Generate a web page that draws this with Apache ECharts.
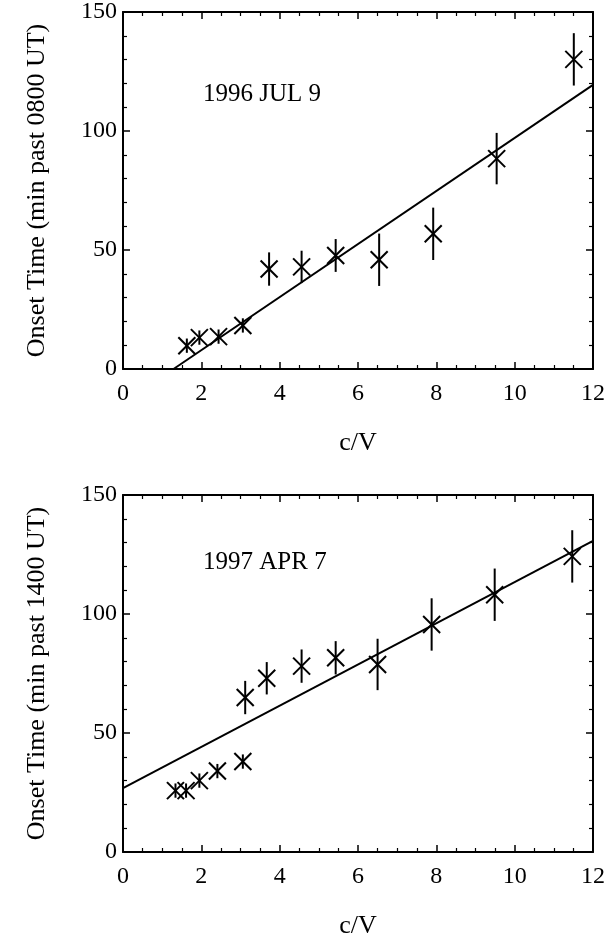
<!DOCTYPE html>
<html>
<head>
<meta charset="utf-8">
<script src="https://cdn.jsdelivr.net/npm/echarts@6/dist/echarts.min.js"></script>
<style>
html,body{margin:0;padding:0;background:#fff;}
#chart{width:615px;height:940px;}
</style>
</head>
<body>
<div id="chart"></div>
<script>
// ---- Data ----
var xTicks = [0, 2, 4, 6, 8, 10, 12];
var yTicks = [0, 50, 100, 150];

// Panel 1: 1996 JUL 9
var cv1996 = [1.63, 1.95, 2.44, 3.06, 3.73, 4.56, 5.43, 6.54, 7.92, 9.54, 11.51];
var onset1996 = [9.8, 13.2, 13.6, 18.3, 42.0, 42.9, 47.7, 45.9, 56.8, 88.4, 130.1];
var err1996 = [3, 3, 3, 3, 7.0, 6.8, 6.9, 11.0, 11.0, 10.8, 11.0];
var fitX1996 = [1.29, 12];
var fitY1996 = [0, 119.4];

// Panel 2: 1997 APR 7
var cv1997 = [1.34, 1.61, 1.95, 2.41, 3.06, 3.12, 3.67, 4.56, 5.43, 6.50, 7.88, 9.49, 11.47];
var onset1997 = [25.8, 25.8, 30.0, 34.0, 38.0, 64.9, 73.0, 78.1, 81.6, 78.8, 95.6, 108.1, 124.2];
var err1997 = [3, 3, 3, 3, 3, 7.0, 6.8, 7.0, 7.0, 10.8, 11.0, 11.0, 11.0];
var fitX1997 = [0, 12];
var fitY1997 = [26.8, 130.7];

var titles = ["1996 JUL 9", "1997 APR 7"];
var yNames = ["Onset Time (min past 0800 UT)", "Onset Time (min past 1400 UT)"];
var xName = "c/V";

// ---- Helpers ----
var FONT = "'Liberation Serif', 'DejaVu Serif', serif";
function zip(a, b, c) {
  return a.map(function (v, i) { return c ? [v, b[i], c[i]] : [v, b[i]]; });
}
var grids = [
  {left: 123, top: 10, width: 470, height: 359},
  {left: 123, top: 495, width: 470, height: 358}
];

var xAxes = [], yAxes = [];
grids.forEach(function (g, gi) {
  var common = {
    gridIndex: gi, type: 'value', min: 0, max: 12, interval: 2,
    axisLine: {show: true, onZero: false, lineStyle: {color: '#000', width: 2}},
    axisTick: {show: true, inside: true, length: 7, lineStyle: {color: '#000', width: 1.5}},
    minorTick: {show: true, splitNumber: 4, length: 4, lineStyle: {color: '#000', width: 1.2}},
    splitLine: {show: false}
  };
  xAxes.push(Object.assign({}, common, {
    position: 'bottom',
    name: xName, nameLocation: 'middle', nameGap: 61,
    nameTextStyle: {fontFamily: FONT, fontSize: 26, color: '#000'},
    axisLabel: {show: true, margin: 13, fontFamily: FONT, fontSize: 24, color: '#000',
      formatter: function (v) { return xTicks.indexOf(v) >= 0 ? String(v) : ''; }}
  }));
  xAxes.push(Object.assign({}, common, {position: 'top', axisLabel: {show: false}}));
  var ycommon = {
    gridIndex: gi, type: 'value', min: 0, max: 150, interval: 50,
    axisLine: {show: true, onZero: false, lineStyle: {color: '#000', width: 2}},
    axisTick: {show: true, inside: true, length: 7, lineStyle: {color: '#000', width: 1.5}},
    minorTick: {show: true, splitNumber: 5, length: 4, lineStyle: {color: '#000', width: 1.2}},
    splitLine: {show: false}
  };
  yAxes.push(Object.assign({}, ycommon, {
    position: 'left',
    name: yNames[gi], nameLocation: 'middle', nameGap: 73, nameRotate: 90,
    nameTextStyle: {fontFamily: FONT, fontSize: 26, color: '#000'},
    axisLabel: {show: true, margin: 6, fontFamily: FONT, fontSize: 24, color: '#000',
      formatter: function (v) { return yTicks.indexOf(v) >= 0 ? String(v) : ''; }}
  }));
  yAxes.push(Object.assign({}, ycommon, {position: 'right', axisLabel: {show: false}}));
});

function renderStar(params, api) {
  var x = api.value(0), y = api.value(1), e = api.value(2);
  var c = api.coord([x, y]);
  var top = api.coord([x, y + e]);
  var bot = api.coord([x, y - e]);
  var h = 8.5;
  var style = {stroke: '#000', lineWidth: 2};
  return {
    type: 'group',
    children: [
      {type: 'line', shape: {x1: c[0] - h, y1: c[1] - h, x2: c[0] + h, y2: c[1] + h}, style: style},
      {type: 'line', shape: {x1: c[0] - h, y1: c[1] + h, x2: c[0] + h, y2: c[1] - h}, style: style},
      {type: 'line', shape: {x1: c[0], y1: top[1], x2: c[0], y2: bot[1]}, style: style}
    ]
  };
}

var series = [
  {type: 'line', xAxisIndex: 0, yAxisIndex: 0, data: zip(fitX1996, fitY1996), showSymbol: false,
   symbol: 'none', lineStyle: {color: '#000', width: 2}, clip: true, silent: true},
  {type: 'custom', xAxisIndex: 0, yAxisIndex: 0, data: zip(cv1996, onset1996, err1996),
   renderItem: renderStar, silent: true},
  {type: 'line', xAxisIndex: 2, yAxisIndex: 2, data: zip(fitX1997, fitY1997), showSymbol: false,
   symbol: 'none', lineStyle: {color: '#000', width: 2}, clip: true, silent: true},
  {type: 'custom', xAxisIndex: 2, yAxisIndex: 2, data: zip(cv1997, onset1997, err1997),
   renderItem: renderStar, silent: true}
];

var chart = echarts.init(document.getElementById('chart'), null, {renderer: 'canvas'});
chart.setOption({
  backgroundColor: '#fff',
  animation: false,
  grid: grids.map(function (g) { return Object.assign({containLabel: false}, g); }),
  xAxis: xAxes,
  yAxis: yAxes,
  graphic: [
    {type: 'text', left: 203, top: 82, style: {text: titles[0], font: '25px ' + FONT, fill: '#000'}},
    {type: 'text', left: 203, top: 550, style: {text: titles[1], font: '25px ' + FONT, fill: '#000'}}
  ],
  series: series
});
</script>
</body>
</html>
